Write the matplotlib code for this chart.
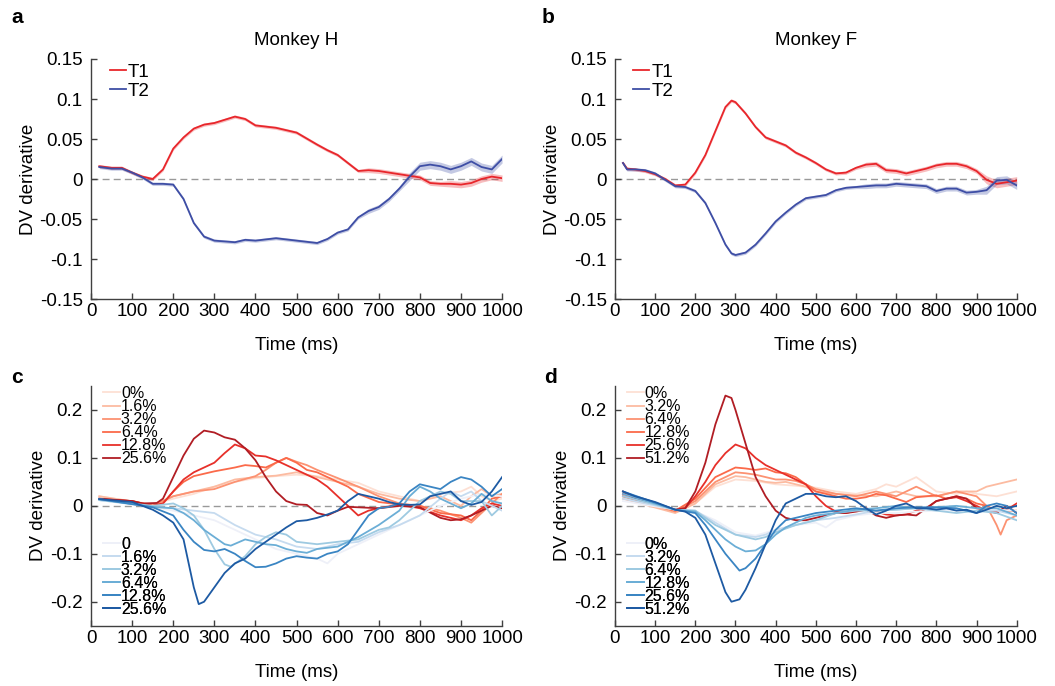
import numpy as np
import matplotlib
matplotlib.use("Agg")
import matplotlib.pyplot as plt

plt.rcParams['font.family'] = ['Liberation Sans', 'DejaVu Sans']

# ---- panel a (Monkey H), mean +/- sem ----
time_a = [20, 50, 75, 100, 125, 150, 175, 200, 225, 250, 275, 300, 350, 375, 400, 450,
          500, 550, 575, 600, 625, 650, 675, 700, 725, 750, 775, 800, 825, 850, 875, 900,
          925, 950, 975, 1000]
t1_a = [0.016, 0.014, 0.014, 0.008, 0.003, 0.000, 0.012, 0.038, 0.052, 0.063, 0.068, 0.070,
        0.078, 0.075, 0.067, 0.064, 0.058, 0.043, 0.036, 0.030, 0.020, 0.010, 0.011, 0.010,
        0.008, 0.006, 0.004, 0.002, -0.005, -0.006, -0.006, -0.007, -0.005, 0.000, 0.003, 0.001]
t2_a = [0.015, 0.013, 0.013, 0.008, 0.002, -0.006, -0.006, -0.007, -0.025, -0.055, -0.072,
        -0.077, -0.079, -0.076, -0.077, -0.074, -0.077, -0.080, -0.075, -0.067, -0.063, -0.048,
        -0.040, -0.035, -0.025, -0.012, 0.003, 0.016, 0.018, 0.016, 0.012, 0.016, 0.022, 0.015,
        0.012, 0.025]
t1_a_sem = [0.002] * 12 + [0.002] * 10 + [0.003] * 8 + [0.004] * 6
t2_a_sem = [0.002] * 12 + [0.002] * 10 + [0.003] * 4 + [0.005] * 10

# ---- panel b (Monkey F) ----
time_b = [20, 30, 50, 75, 100, 125, 150, 175, 200, 225, 250, 275, 290, 300, 325, 350, 375,
          400, 425, 450, 475, 500, 525, 550, 575, 600, 625, 650, 675, 700, 725, 750, 775, 800,
          825, 850, 875, 900, 925, 950, 975, 1000]
t1_b = [0.020, 0.013, 0.012, 0.010, 0.006, 0.000, -0.008, -0.007, 0.008, 0.030, 0.060, 0.090,
        0.098, 0.096, 0.082, 0.065, 0.052, 0.047, 0.042, 0.033, 0.027, 0.020, 0.012, 0.007,
        0.008, 0.014, 0.018, 0.019, 0.011, 0.010, 0.007, 0.010, 0.013, 0.017, 0.019, 0.019,
        0.016, 0.010, -0.001, -0.006, -0.004, -0.002]
t2_b = [0.020, 0.012, 0.012, 0.011, 0.007, -0.001, -0.009, -0.010, -0.015, -0.030, -0.055,
        -0.082, -0.093, -0.095, -0.092, -0.082, -0.068, -0.053, -0.042, -0.032, -0.024, -0.022,
        -0.020, -0.014, -0.011, -0.010, -0.009, -0.008, -0.008, -0.006, -0.007, -0.008, -0.009,
        -0.015, -0.012, -0.012, -0.017, -0.016, -0.014, -0.002, -0.001, -0.008]
t1_b_sem = [0.002] * 26 + [0.003] * 12 + [0.005] * 4
t2_b_sem = [0.002] * 26 + [0.003] * 12 + [0.005] * 4

# ---- panel c (Monkey H, by coherence) ----
coh_c_red = ['0%', '1.6%', '3.2%', '6.4%', '12.8%', '25.6%']
coh_c_blue = ['0', '1.6%', '3.2%', '6.4%', '12.8%', '25.6%']

c_red_0 = [(20, 0.020), (150, 0.003), (200, 0.015), (250, 0.025), (300, 0.040), (350, 0.050),
           (400, 0.058), (450, 0.062), (500, 0.065), (550, 0.062), (600, 0.055), (650, 0.048),
           (700, 0.030), (750, 0.020), (800, 0.010), (850, 0.025), (900, 0.030), (925, 0.040),
           (950, 0.020), (975, 0.010), (1000, 0.015)]
c_red_16 = [(20, 0.020), (150, 0.002), (200, 0.020), (250, 0.030), (300, 0.040), (350, 0.055),
            (400, 0.060), (450, 0.063), (500, 0.070), (550, 0.060), (600, 0.050), (650, 0.040),
            (700, 0.025), (750, 0.015), (800, 0.010), (850, 0.020), (900, 0.000), (925, 0.020),
            (950, 0.035), (975, 0.020), (1000, 0.025)]
c_red_32 = [(20, 0.015), (150, 0.000), (200, 0.020), (250, 0.030), (300, 0.035), (350, 0.050),
            (400, 0.062), (425, 0.075), (450, 0.090), (475, 0.100), (500, 0.092), (525, 0.085),
            (550, 0.075), (600, 0.058), (650, 0.040), (700, 0.020), (750, 0.005), (800, 0.000),
            (850, -0.010), (900, -0.025), (925, -0.035), (950, -0.015), (975, 0.005), (1000, 0.025)]
c_red_64 = [(20, 0.014), (100, 0.010), (150, 0.000), (175, 0.005), (200, 0.030), (225, 0.050),
            (250, 0.062), (300, 0.072), (350, 0.080), (375, 0.085), (400, 0.083), (425, 0.080),
            (450, 0.090), (475, 0.100), (500, 0.090), (525, 0.075), (550, 0.070), (575, 0.060),
            (600, 0.050), (625, 0.040), (650, 0.025), (700, 0.008), (750, 0.003), (800, 0.000),
            (850, -0.015), (900, -0.020), (925, -0.030), (950, -0.010), (975, 0.015), (1000, 0.020)]
c_red_128 = [(20, 0.014), (100, 0.010), (150, 0.000), (175, 0.005), (200, 0.030), (225, 0.055),
             (250, 0.070), (300, 0.090), (325, 0.110), (350, 0.128), (375, 0.120), (400, 0.105),
             (425, 0.103), (450, 0.095), (475, 0.085), (500, 0.075), (525, 0.065), (550, 0.055),
             (575, 0.040), (600, 0.020), (625, 0.000), (650, -0.020), (675, -0.010), (700, -0.005),
             (750, 0.003), (800, -0.005), (850, -0.020), (900, -0.030), (925, -0.020),
             (950, -0.005), (975, 0.005), (1000, 0.000)]
c_red_256 = [(20, 0.015), (100, 0.010), (125, 0.005), (160, 0.006), (175, 0.015), (200, 0.060),
             (225, 0.105), (250, 0.140), (275, 0.157), (300, 0.153), (325, 0.143), (350, 0.138),
             (375, 0.120), (400, 0.095), (425, 0.060), (450, 0.030), (475, 0.010), (500, 0.003),
             (525, 0.002), (550, -0.015), (575, -0.020), (600, -0.010), (625, -0.002),
             (650, -0.003), (700, -0.005), (750, 0.000), (800, -0.003), (850, -0.025),
             (875, -0.030), (900, -0.028), (925, -0.020), (950, -0.010), (975, 0.000), (1000, -0.005)]

c_blue_0 = [(20, 0.012), (150, -0.002), (200, -0.010), (250, -0.020), (300, -0.030), (350, -0.050),
            (400, -0.070), (450, -0.090), (500, -0.100), (550, -0.110), (575, -0.120), (600, -0.100),
            (650, -0.080), (700, -0.060), (750, -0.040), (800, -0.020), (850, 0.000), (900, 0.015),
            (950, 0.025), (1000, 0.020)]
c_blue_16 = [(20, 0.012), (150, -0.002), (200, -0.005), (250, -0.010), (300, -0.015), (350, -0.040),
             (400, -0.060), (450, -0.070), (500, -0.085), (550, -0.090), (600, -0.080), (650, -0.075),
             (700, -0.055), (750, -0.040), (800, -0.020), (850, 0.015), (875, 0.030), (900, 0.020),
             (925, 0.030), (950, 0.010), (975, 0.000), (1000, -0.010)]
c_blue_32 = [(20, 0.012), (150, 0.000), (200, 0.005), (225, -0.005), (250, -0.020), (275, -0.050),
             (300, -0.090), (325, -0.122), (340, -0.127), (375, -0.105), (400, -0.080), (425, -0.065),
             (450, -0.055), (475, -0.060), (500, -0.075), (550, -0.080), (600, -0.075), (650, -0.070),
             (700, -0.050), (725, -0.045), (750, -0.030), (775, -0.010), (800, 0.010), (825, 0.020),
             (850, 0.030), (875, 0.025), (900, 0.010), (950, 0.010), (975, -0.020), (1000, 0.000)]
c_blue_64 = [(20, 0.014), (150, -0.002), (200, -0.005), (225, -0.015), (250, -0.030), (275, -0.050),
             (300, -0.065), (325, -0.080), (340, -0.083), (375, -0.070), (400, -0.075), (425, -0.080),
             (450, -0.082), (475, -0.090), (500, -0.095), (525, -0.098), (550, -0.090), (600, -0.085),
             (650, -0.065), (700, -0.040), (750, -0.010), (775, 0.020), (800, 0.040), (825, 0.030),
             (850, 0.015), (875, 0.005), (900, -0.005), (925, 0.005), (950, 0.025), (975, 0.010),
             (1000, 0.005)]
c_blue_128 = [(20, 0.014), (150, -0.003), (200, -0.020), (225, -0.050), (250, -0.075), (275, -0.092),
              (300, -0.095), (325, -0.090), (350, -0.100), (375, -0.115), (400, -0.128), (425, -0.127),
              (450, -0.120), (475, -0.110), (500, -0.105), (525, -0.108), (550, -0.110), (575, -0.100),
              (600, -0.095), (625, -0.080), (650, -0.050), (675, -0.020), (700, -0.005), (725, -0.002),
              (750, 0.005), (775, 0.030), (800, 0.045), (825, 0.040), (850, 0.035), (875, 0.050),
              (900, 0.060), (925, 0.055), (950, 0.040), (975, 0.020), (1000, 0.035)]
c_blue_256 = [(20, 0.014), (100, 0.008), (125, 0.000), (150, -0.008), (175, -0.020), (200, -0.035),
              (225, -0.070), (240, -0.130), (250, -0.170), (262, -0.205), (275, -0.200), (300, -0.170),
              (325, -0.140), (350, -0.120), (375, -0.110), (400, -0.090), (425, -0.075), (450, -0.060),
              (475, -0.045), (500, -0.032), (525, -0.030), (550, -0.025), (575, -0.018), (600, -0.010),
              (625, 0.010), (650, 0.025), (675, 0.020), (700, 0.015), (725, 0.008), (750, 0.003),
              (775, 0.002), (800, 0.003), (825, 0.020), (850, 0.025), (875, 0.030), (900, 0.010),
              (925, 0.002), (950, 0.008), (975, 0.030), (1000, 0.060)]

# ---- panel d (Monkey F, by coherence) ----
coh_d_red = ['0%', '3.2%', '6.4%', '12.8%', '25.6%', '51.2%']
coh_d_blue = ['0%', '3.2%', '6.4%', '12.8%', '25.6%', '51.2%']

d_red_0 = [(20, 0.015), (150, -0.010), (200, 0.005), (250, 0.040), (300, 0.055), (350, 0.052),
           (400, 0.045), (450, 0.042), (500, 0.038), (550, 0.030), (600, 0.025), (650, 0.035),
           (675, 0.045), (700, 0.040), (725, 0.050), (750, 0.060), (775, 0.045), (800, 0.030),
           (850, 0.025), (875, 0.030), (900, 0.025), (950, 0.020), (975, 0.025), (1000, 0.030)]
d_red_32 = [(20, 0.015), (150, -0.015), (200, 0.005), (250, 0.045), (300, 0.062), (325, 0.060),
            (350, 0.055), (375, 0.050), (400, 0.048), (425, 0.050), (450, 0.045), (475, 0.040),
            (500, 0.030), (550, 0.025), (600, 0.022), (650, 0.020), (700, 0.030), (750, 0.020),
            (800, 0.020), (850, 0.030), (900, 0.030), (925, 0.040), (950, 0.045), (975, 0.050),
            (1000, 0.055)]
d_red_64 = [(20, 0.020), (150, -0.012), (200, 0.010), (250, 0.050), (300, 0.070), (325, 0.068),
            (350, 0.065), (375, 0.060), (400, 0.055), (425, 0.055), (450, 0.052), (475, 0.045),
            (500, 0.035), (525, 0.030), (550, 0.025), (600, 0.020), (625, 0.025), (650, 0.030),
            (675, 0.025), (700, 0.020), (725, 0.030), (750, 0.040), (775, 0.030), (800, 0.020),
            (850, 0.030), (900, 0.020), (925, 0.000), (950, -0.040), (960, -0.060), (975, -0.030),
            (1000, -0.020)]
d_red_128 = [(20, 0.020), (150, -0.010), (200, 0.015), (250, 0.060), (300, 0.080), (325, 0.078),
             (350, 0.075), (375, 0.078), (400, 0.070), (425, 0.068), (450, 0.060), (475, 0.045),
             (500, 0.030), (550, 0.020), (575, 0.015), (600, 0.015), (625, 0.018), (650, 0.025),
             (675, 0.022), (700, 0.015), (725, 0.008), (750, 0.018), (775, 0.020), (800, 0.022),
             (825, 0.015), (850, 0.020), (875, 0.015), (900, 0.005), (925, 0.000), (950, -0.010),
             (1000, -0.010)]
d_red_256 = [(20, 0.025), (100, 0.005), (150, -0.008), (175, -0.005), (200, 0.020), (225, 0.050),
             (250, 0.085), (275, 0.110), (300, 0.128), (325, 0.120), (350, 0.100), (375, 0.085),
             (400, 0.075), (425, 0.065), (450, 0.055), (475, 0.045), (500, 0.020), (525, 0.000),
             (550, -0.012), (575, -0.015), (600, -0.010), (625, -0.005), (650, -0.012), (675, -0.018),
             (700, -0.020), (725, -0.018), (750, -0.010), (775, -0.005), (800, 0.010), (825, 0.015),
             (850, 0.018), (875, 0.010), (900, 0.000), (925, -0.010), (950, -0.012), (975, -0.008),
             (1000, 0.005)]
d_red_512 = [(20, 0.030), (50, 0.015), (100, 0.005), (150, -0.008), (175, -0.005), (200, 0.030),
             (225, 0.090), (250, 0.170), (275, 0.230), (290, 0.225), (300, 0.200), (325, 0.130),
             (350, 0.060), (375, 0.020), (400, -0.010), (425, -0.025), (450, -0.030), (475, -0.030),
             (500, -0.025), (525, -0.020), (550, -0.015), (575, -0.015), (600, -0.012), (625, -0.008),
             (650, -0.020), (675, -0.025), (700, -0.020), (725, -0.018), (750, -0.020), (775, -0.005),
             (800, 0.010), (825, 0.015), (850, 0.020), (875, 0.015), (900, -0.005), (925, -0.010),
             (950, -0.015), (975, 0.000), (1000, -0.015)]

d_blue_0 = [(20, 0.010), (150, -0.008), (200, -0.012), (250, -0.030), (300, -0.055), (350, -0.062),
            (400, -0.050), (450, -0.040), (500, -0.035), (525, -0.045), (550, -0.030), (600, -0.020),
            (650, -0.015), (700, -0.015), (750, -0.012), (800, -0.010), (850, -0.008), (900, -0.010),
            (950, -0.008), (1000, -0.010)]
d_blue_32 = [(20, 0.015), (150, -0.008), (200, -0.010), (250, -0.035), (300, -0.060), (350, -0.065),
             (375, -0.060), (400, -0.050), (450, -0.040), (500, -0.030), (550, -0.025), (600, -0.018),
             (650, -0.010), (700, -0.008), (750, -0.005), (800, -0.005), (850, -0.008), (900, -0.012),
             (950, -0.010), (1000, -0.020)]
d_blue_64 = [(20, 0.020), (150, -0.008), (200, -0.010), (250, -0.040), (300, -0.060), (350, -0.070),
             (375, -0.065), (400, -0.055), (450, -0.040), (500, -0.030), (550, -0.015), (600, -0.010),
             (650, -0.010), (700, -0.008), (750, -0.005), (800, -0.010), (850, -0.015), (900, -0.010),
             (950, -0.015), (1000, -0.030)]
d_blue_128 = [(20, 0.025), (150, -0.008), (200, -0.012), (225, -0.030), (250, -0.050), (275, -0.070),
              (300, -0.085), (325, -0.095), (350, -0.093), (375, -0.080), (400, -0.060), (425, -0.045),
              (450, -0.035), (475, -0.025), (500, -0.020), (550, -0.015), (600, -0.008), (650, -0.005),
              (700, 0.000), (750, -0.005), (800, -0.003), (850, 0.000), (900, -0.005), (950, -0.005),
              (1000, -0.020)]
d_blue_256 = [(20, 0.030), (150, -0.008), (200, -0.015), (225, -0.040), (250, -0.070), (275, -0.100),
              (300, -0.125), (310, -0.135), (325, -0.130), (350, -0.110), (375, -0.080), (400, -0.050),
              (425, -0.030), (450, -0.025), (475, -0.020), (500, -0.015), (550, -0.010), (600, -0.005),
              (650, -0.010), (700, -0.005), (750, -0.003), (800, -0.003), (850, -0.005), (900, -0.015),
              (925, 0.000), (950, 0.005), (975, 0.000), (1000, -0.015)]
d_blue_512 = [(20, 0.030), (50, 0.020), (100, 0.008), (150, -0.008), (175, -0.012), (200, -0.025),
              (225, -0.060), (250, -0.120), (275, -0.180), (290, -0.200), (310, -0.195), (325, -0.175),
              (350, -0.130), (375, -0.080), (400, -0.030), (425, 0.005), (450, 0.015), (475, 0.025),
              (500, 0.025), (525, 0.020), (550, 0.018), (575, 0.020), (600, 0.010), (625, -0.005),
              (650, -0.018), (675, -0.010), (700, 0.000), (725, 0.005), (750, -0.005), (775, -0.005),
              (800, -0.008), (825, -0.005), (850, -0.010), (875, -0.008), (900, -0.015), (925, -0.008),
              (950, 0.000), (975, -0.005), (1000, 0.000)]

red_shades = ['#fde0d4', '#fcbba1', '#fc9272', '#fb6a4a', '#e7302a', '#b11d24']
blue_shades = ['#eef0f8', '#c6dbef', '#9ecae1', '#6baed6', '#3a85c3', '#1d5aa3']
T1_COLOR = '#e8262b'
T2_COLOR = '#3e4ea5'
SPINE = '#404040'
FS = 13.5


def style_axes(ax, ylim, yticks, yticklabels):
    ax.set_xlim(0, 1000)
    ax.set_ylim(*ylim)
    ax.set_xticks(range(0, 1001, 100))
    ax.set_yticks(yticks)
    ax.set_yticklabels(yticklabels)
    for s in ['top', 'right']:
        ax.spines[s].set_visible(False)
    for s in ['left', 'bottom']:
        ax.spines[s].set_color(SPINE)
        ax.spines[s].set_linewidth(1.0)
    ax.tick_params(direction='in', length=4, width=1, color=SPINE, labelsize=FS)
    ax.tick_params(axis='x', pad=3)
    ax.tick_params(axis='y', pad=6)
    ax.axhline(0, color='#999999', lw=1, ls=(0, (5, 3)), zorder=0)
    ax.set_xlabel('Time (ms)', fontsize=FS, labelpad=12)
    ax.set_ylabel('DV derivative', fontsize=FS, labelpad=2)


def draw_mean(ax, t, y, sem, color):
    t = np.array(t)
    y = np.array(y)
    sem = np.array(sem)
    ax.fill_between(t, y - sem, y + sem, color=color, alpha=0.3, lw=0)
    ax.plot(t, y, color=color, lw=1.3)


def draw_coh(ax, series, colors, labels, anchor):
    handles = []
    for data, c, lab in zip(series, colors, labels):
        t, y = np.array(data).T
        h, = ax.plot(t, y, color=c, lw=1.3, label=lab)
        handles.append(h)
    leg = ax.legend(handles=handles, loc='upper left', bbox_to_anchor=anchor, frameon=False,
                    fontsize=11.5, handlelength=1.05, handletextpad=0.05, labelspacing=-0.12,
                    borderaxespad=0, borderpad=0)
    ax.add_artist(leg)


fig = plt.figure(figsize=(10.55, 6.86), dpi=100)
ax_a = fig.add_axes([0.0863, 0.5641, 0.3896, 0.3499])
ax_b = fig.add_axes([0.5829, 0.5641, 0.3808, 0.3499])
ax_c = fig.add_axes([0.0863, 0.0879, 0.3896, 0.3494])
ax_d = fig.add_axes([0.5829, 0.0879, 0.3808, 0.3494])

ab_ticks = [-0.15, -0.1, -0.05, 0, 0.05, 0.1, 0.15]
ab_labels = ['-0.15', '-0.1', '-0.05', '0', '0.05', '0.1', '0.15']
cd_ticks = [-0.2, -0.1, 0, 0.1, 0.2]
cd_labels = ['-0.2', '-0.1', '0', '0.1', '0.2']

for ax, title, tt, y1, s1, y2, s2 in [(ax_a, 'Monkey H', time_a, t1_a, t1_a_sem, t2_a, t2_a_sem),
                                      (ax_b, 'Monkey F', time_b, t1_b, t1_b_sem, t2_b, t2_b_sem)]:
    style_axes(ax, (-0.15, 0.15), ab_ticks, ab_labels)
    draw_mean(ax, tt, y1, s1, T1_COLOR)
    draw_mean(ax, tt, y2, s2, T2_COLOR)
    ax.set_title(title, fontsize=FS, pad=10)
    h1, = ax.plot([], [], color=T1_COLOR, lw=1.3)
    h2, = ax.plot([], [], color=T2_COLOR, lw=1.3)
    ax.legend([h1, h2], ['T1', 'T2'], loc='upper left', bbox_to_anchor=(0.046, 0.98),
              frameon=False, fontsize=FS, handlelength=0.85, handletextpad=0.1,
              labelspacing=0.1, borderaxespad=0, borderpad=0)

style_axes(ax_c, (-0.25, 0.25), cd_ticks, cd_labels)
draw_coh(ax_c, [c_red_0, c_red_16, c_red_32, c_red_64, c_red_128, c_red_256],
         red_shades, coh_c_red, (0.03, 1.0))
draw_coh(ax_c, [c_blue_0, c_blue_16, c_blue_32, c_blue_64, c_blue_128, c_blue_256],
         blue_shades, coh_c_blue, (0.03, 0.372))

style_axes(ax_d, (-0.25, 0.25), cd_ticks, cd_labels)
draw_coh(ax_d, [d_red_0, d_red_32, d_red_64, d_red_128, d_red_256, d_red_512],
         red_shades, coh_d_red, (0.03, 1.0))
draw_coh(ax_d, [d_blue_0, d_blue_32, d_blue_64, d_blue_128, d_blue_256, d_blue_512],
         blue_shades, coh_d_blue, (0.03, 0.372))

for letter, x, y in [('a', 0.011, 0.975), ('b', 0.513, 0.975), ('c', 0.011, 0.449), ('d', 0.516, 0.449)]:
    fig.text(x, y, letter, fontsize=15, fontweight='bold', va='center')

fig.savefig('out.png', dpi=100)
